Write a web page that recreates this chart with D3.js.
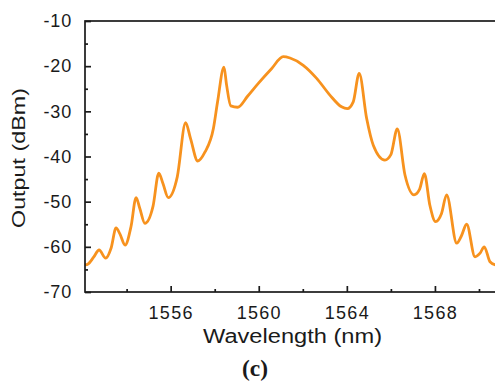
<!DOCTYPE html>
<html>
<head>
<meta charset="utf-8">
<script src="https://cdn.jsdelivr.net/npm/d3@7"></script>
<style>
  html, body { margin: 0; padding: 0; background: #fff; }
  svg { display: block; }
  text { fill: #1a1a1a; }
</style>
</head>
<body>
<svg id="chart" width="495" height="388"></svg>
<script>
// Optical spectrum: wavelength (nm) and output power (dBm)
const wavelength = [
  1552.11, 1552.25, 1552.50, 1552.75, 1553.05, 1553.30, 1553.52, 1553.70, 1553.93,
  1554.20, 1554.43, 1554.60, 1554.83, 1555.20, 1555.46, 1555.65, 1555.89, 1556.30,
  1556.68, 1556.90, 1557.23, 1557.56, 1557.94, 1558.13, 1558.42, 1558.54, 1558.73,
  1559.04, 1559.50, 1559.98, 1560.59, 1561.11, 1561.42, 1562.02, 1562.63, 1563.23,
  1563.76, 1564.02, 1564.29, 1564.56, 1564.90, 1565.20, 1565.73, 1566.00, 1566.29,
  1566.64, 1567.05, 1567.30, 1567.52, 1567.77, 1568.03, 1568.30, 1568.53, 1568.99,
  1569.20, 1569.44, 1569.82, 1570.05, 1570.24, 1570.50, 1570.75
];
const power = [
  -64.0, -63.8, -62.3, -60.7, -62.5, -60.2, -55.8, -57.2, -59.6,
  -55.5, -49.1, -51.5, -54.8, -51.0, -43.7, -46.0, -49.1, -44.5,
  -32.5, -36.0, -41.0, -39.0, -33.8, -27.9, -20.2, -24.2, -28.8,
  -29.1, -26.6, -23.8, -20.5, -17.9, -18.2, -19.8, -22.7, -26.4,
  -29.0, -29.4, -27.9, -21.6, -31.6, -37.5, -40.8, -39.6, -33.9,
  -44.1, -48.5, -47.3, -43.8, -50.8, -54.4, -52.6, -48.5, -59.2,
  -57.6, -55.0, -62.2, -61.4, -60.0, -63.3, -64.0
];

// Axis ticks
const xMajorTicks = [1556, 1560, 1564, 1568];
const xMinorTicks = [1554, 1558, 1562, 1566, 1570];
const yMajorTicks = [-10, -20, -30, -40, -50, -60, -70];
const yMinorTicks = [-15, -25, -35, -45, -55, -65];

const sans = "'Liberation Sans', Arial, sans-serif";
const serif = "'Liberation Serif', 'Times New Roman', serif";
const ink = "#1a1a1a";

const svg = d3.select("#chart");

const plot = { left: 85, top: 21, bottom: 292, right: 501 };

const x = d3.scaleLinear().domain([1552.11, 1571]).range([plot.left, plot.right]);
const y = d3.scaleLinear().domain([-70, -10]).range([plot.bottom, plot.top]);

// Spectrum trace
const line = d3.line()
  .x((d, i) => x(wavelength[i]))
  .y(d => y(d))
  .curve(d3.curveMonotoneX);

svg.append("path")
  .datum(power)
  .attr("d", line)
  .attr("fill", "none")
  .attr("stroke", "#f7921e")
  .attr("stroke-width", 2.8)
  .attr("stroke-linejoin", "round");

// Frame (right side runs past the visible edge)
svg.append("rect")
  .attr("x", plot.left).attr("y", plot.top)
  .attr("width", plot.right - plot.left + 20)
  .attr("height", plot.bottom - plot.top)
  .attr("fill", "none").attr("stroke", ink).attr("stroke-width", 1.7);

const plain = d => String(d);

// Bottom axis: ticks pointing inward
const gx = svg.append("g").attr("transform", `translate(0,${plot.bottom})`)
  .call(d3.axisBottom(x).tickValues(xMajorTicks).tickSizeInner(-6).tickSizeOuter(0).tickPadding(14).tickFormat(plain));
gx.select(".domain").remove();
gx.selectAll(".tick line").attr("stroke", ink).attr("stroke-width", 1.7);
gx.selectAll(".tick text")
  .style("font-family", sans).style("font-size", "18px").style("letter-spacing", "1.3px")
  .attr("fill", ink);

const gxm = svg.append("g").attr("transform", `translate(0,${plot.bottom})`)
  .call(d3.axisBottom(x).tickValues(xMinorTicks).tickSizeInner(-3).tickSizeOuter(0).tickFormat(""));
gxm.select(".domain").remove();
gxm.selectAll(".tick line").attr("stroke", ink).attr("stroke-width", 1.7);

// Left axis: ticks pointing inward
const gy = svg.append("g").attr("transform", `translate(${plot.left},0)`)
  .call(d3.axisLeft(y).tickValues(yMajorTicks).tickSizeInner(-6).tickSizeOuter(0).tickPadding(13).tickFormat(plain));
gy.select(".domain").remove();
gy.selectAll(".tick line").attr("stroke", ink).attr("stroke-width", 1.7);
gy.selectAll(".tick text")
  .style("font-family", sans).style("font-size", "18px").style("letter-spacing", "0.8px")
  .attr("fill", ink);

const gym = svg.append("g").attr("transform", `translate(${plot.left},0)`)
  .call(d3.axisLeft(y).tickValues(yMinorTicks).tickSizeInner(-3).tickSizeOuter(0).tickFormat(""));
gym.select(".domain").remove();
gym.selectAll(".tick line").attr("stroke", ink).attr("stroke-width", 1.7);

// Axis titles
svg.append("text")
  .attr("x", 292.5).attr("y", 343)
  .attr("text-anchor", "middle")
  .style("font-family", sans).style("font-size", "19.5px")
  .attr("textLength", 179).attr("lengthAdjust", "spacingAndGlyphs")
  .text("Wavelength (nm)");

svg.append("text")
  .attr("transform", "translate(25,158) rotate(-90)")
  .attr("text-anchor", "middle")
  .style("font-family", sans).style("font-size", "17.5px")
  .attr("textLength", 140).attr("lengthAdjust", "spacingAndGlyphs")
  .text("Output (dBm)");

// Panel label
svg.append("text")
  .attr("x", 255).attr("y", 376)
  .attr("text-anchor", "middle")
  .style("font-family", serif).style("font-weight", "bold").style("font-size", "23px")
  .attr("textLength", 26).attr("lengthAdjust", "spacingAndGlyphs")
  .text("(c)");
</script>
</body>
</html>
